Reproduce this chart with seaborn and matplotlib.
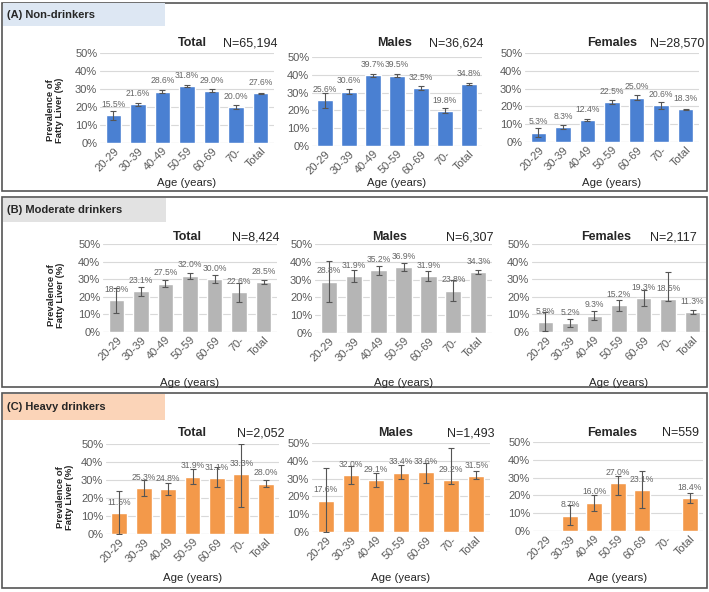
import numpy as np
import pandas as pd
import seaborn as sns
import matplotlib.pyplot as plt
from matplotlib.patches import Rectangle

# data
ages = ['20-29', '30-39', '40-49', '50-59', '60-69', '70-', 'Total']

# (A) non-drinkers
a_total = [15.5, 21.6, 28.6, 31.8, 29.0, 20.0, 27.6]
a_total_lo = [13.0, 20.8, 27.8, 31.1, 28.2, 18.8, 27.3]
a_total_hi = [18.0, 22.4, 29.4, 32.5, 29.8, 21.2, 27.9]
a_males = [25.6, 30.6, 39.7, 39.5, 32.5, 19.8, 34.8]
a_males_lo = [21.4, 29.4, 38.9, 38.6, 31.5, 18.3, 34.4]
a_males_hi = [29.8, 31.8, 40.5, 40.4, 33.5, 21.3, 35.2]
a_females = [5.3, 8.3, 12.4, 22.5, 25.0, 20.6, 18.3]
a_females_lo = [2.8, 7.3, 11.6, 21.5, 23.8, 18.8, 17.9]
a_females_hi = [7.8, 9.3, 13.2, 23.5, 26.2, 22.4, 18.7]

# (B) moderate drinkers
b_total = [18.0, 23.1, 27.5, 32.0, 30.0, 22.6, 28.5]
b_total_lo = [11.0, 20.6, 25.7, 30.2, 27.7, 17.1, 27.5]
b_total_hi = [25.0, 25.6, 29.3, 33.8, 32.3, 28.1, 29.5]
b_males = [28.8, 31.9, 35.2, 36.9, 31.9, 23.8, 34.3]
b_males_lo = [17.3, 28.4, 32.7, 34.7, 29.1, 17.8, 33.1]
b_males_hi = [40.3, 35.4, 37.7, 39.1, 34.7, 29.8, 35.5]
b_females = [5.8, 5.2, 9.3, 15.2, 19.3, 18.5, 11.3]
b_females_lo = [0.3, 3.0, 6.8, 12.2, 14.8, 17.5, 10.0]
b_females_hi = [11.3, 7.4, 11.8, 18.2, 23.8, 34.0, 12.6]

# (C) heavy drinkers
c_total = [11.5, 25.3, 24.8, 31.9, 31.1, 33.3, 28.0]
c_total_lo = [0.0, 21.0, 21.5, 28.0, 26.0, 15.0, 26.2]
c_total_hi = [24.0, 30.0, 28.5, 36.0, 37.0, 50.0, 29.8]
c_males = [17.6, 32.0, 29.1, 33.4, 33.6, 29.2, 31.5]
c_males_lo = [0.0, 27.0, 25.5, 29.5, 27.5, 27.2, 29.5]
c_males_hi = [36.0, 37.0, 33.0, 37.5, 39.0, 47.4, 34.0]
c_females = [np.nan, 8.7, 16.0, 27.0, 23.1, np.nan, 18.4]
c_females_lo = [np.nan, 3.5, 11.5, 20.0, 13.0, np.nan, 15.5]
c_females_hi = [np.nan, 14.5, 20.5, 31.0, 33.5, np.nan, 21.5]

sections = ['(A) Non-drinkers', '(B) Moderate drinkers', '(C) Heavy drinkers']
groups = ['Total', 'Males', 'Females']
sizes = [['N=65,194', 'N=36,624', 'N=28,570'],
         ['N=8,424', 'N=6,307', 'N=2,117'],
         ['N=2,052', 'N=1,493', 'N=559']]
values = [[(a_total, a_total_lo, a_total_hi), (a_males, a_males_lo, a_males_hi),
           (a_females, a_females_lo, a_females_hi)],
          [(b_total, b_total_lo, b_total_hi), (b_males, b_males_lo, b_males_hi),
           (b_females, b_females_lo, b_females_hi)],
          [(c_total, c_total_lo, c_total_hi), (c_males, c_males_lo, c_males_hi),
           (c_females, c_females_lo, c_females_hi)]]

bar_colors = ['#4a80d2', '#b5b5b5', '#f3994a']
header_colors = ['#dde7f3', '#e2e2e2', '#fbd4b8']

sns.set_theme(style='white')
plt.rcParams['font.family'] = ['Liberation Sans', 'DejaVu Sans']

W, H = 709, 592
fig = plt.figure(figsize=(W / 100, H / 100), dpi=100)


def fx(x):
    return x / W


def fy(y):
    return 1 - y / H


# section boxes and headers (pixel positions)
boxes = [(3, 191), (197, 387), (393, 588)]
headers = [(3, 165, 3, 26), (3, 166, 198, 222), (3, 165, 394, 420)]
for i, (top, bot) in enumerate(boxes):
    fig.patches.append(Rectangle((fx(2), fy(bot)), fx(705), (bot - top) / H,
                                 transform=fig.transFigure, fill=False,
                                 edgecolor='#555555', lw=1.2))
    x0, x1, y0, y1 = headers[i]
    fig.patches.append(Rectangle((fx(x0), fy(y1)), fx(x1 - x0), (y1 - y0) / H,
                                 transform=fig.transFigure, facecolor=header_colors[i],
                                 edgecolor='none'))
    fig.text(fx(7), fy((y0 + y1) / 2), sections[i], fontsize=8.0,
             fontweight='bold', va='center', ha='left')

# axes boxes: (left, right, top, bottom) in pixels
axes_px = [[(100, 274, 53, 143), (312, 482, 57, 146), (525, 699, 53, 142)],
           [(103, 277, 244, 332), (315, 492, 244, 333), (532, 706, 244, 332)],
           [(106, 279, 444, 534), (312, 490, 443, 532), (533, 703, 442, 531)]]
title_pos = [[(192, 43, 223), (395, 43, 429), (612, 43, 650)],
             [(187, 237, 232), (390, 237, 446), (606, 237, 650)],
             [(192, 433, 237), (396, 433, 447), (612, 433, 662)]]
xlabel_y = [183, 383, 578]
# y-label centre (pixels) for the first column
ylabel_xy = [(55, 110), (56, 295), (65, 497)]

for r in range(3):
    for c in range(3):
        l, rr, t, b = axes_px[r][c]
        ax = fig.add_axes([fx(l), fy(b), (rr - l) / W, (b - t) / H])
        vals, lo, hi = values[r][c]
        df = pd.DataFrame({'age': ages, 'prev': vals, 'lo': lo, 'hi': hi})
        sns.barplot(data=df, x='age', y='prev', order=ages, color=bar_colors[r],
                    width=0.65, saturation=1, errorbar=None, ax=ax, zorder=2)
        ok = df.dropna()
        ax.errorbar(ok['age'], ok['prev'],
                    yerr=[ok['prev'] - ok['lo'], ok['hi'] - ok['prev']],
                    fmt='none', ecolor='#555555', elinewidth=0.8, capsize=2.5,
                    capthick=0.8, zorder=3)
        for _, row in ok.iterrows():
            ax.annotate(f"{row['prev']:.1f}%", (ages.index(row['age']), row['prev']),
                        xytext=(0, 4.5), textcoords='offset points', ha='center',
                        va='bottom', fontsize=6.2, color='#666666', zorder=4)
        ax.set_ylim(0, 50)
        ax.set_yticks(range(0, 51, 10))
        ax.set_yticklabels([f'{v}%' for v in range(0, 51, 10)], fontsize=8,
                           color='#595959')
        ax.set_xticks(range(len(ages)))
        ax.set_xticklabels(ages, rotation=45, ha='right', rotation_mode='anchor',
                           fontsize=8, color='#595959')
        ax.tick_params(axis='both', length=0, pad=2)
        ax.yaxis.grid(True, color='#d9d9d9', lw=0.8, zorder=0)
        ax.set_axisbelow(True)
        for s in ax.spines.values():
            s.set_visible(False)
        ax.axhline(0, color='#d0d0d0', lw=0.8, zorder=1)
        ax.set_xlabel('')
        ax.set_ylabel('')
        ax.set_xlim(-0.55, len(ages) - 0.45)
        if c == 0:
            lx, ly = ylabel_xy[r]
            fig.text(fx(lx), fy(ly), 'Prevalence of\nFatty Liver (%)', fontsize=6.8,
                     fontweight='bold', rotation=90, ha='center', va='center',
                     linespacing=1.0)
        tx, ty, nx = title_pos[r][c]
        fig.text(fx(tx), fy(ty), groups[c], fontsize=9, fontweight='bold',
                 ha='center', va='center')
        fig.text(fx(nx), fy(ty), sizes[r][c], fontsize=9, ha='left', va='center')
        fig.text(fx((l + rr) / 2), fy(xlabel_y[r]), 'Age (years)', fontsize=8.2,
                 ha='center', va='center')

fig.savefig('out.png', dpi=100)
